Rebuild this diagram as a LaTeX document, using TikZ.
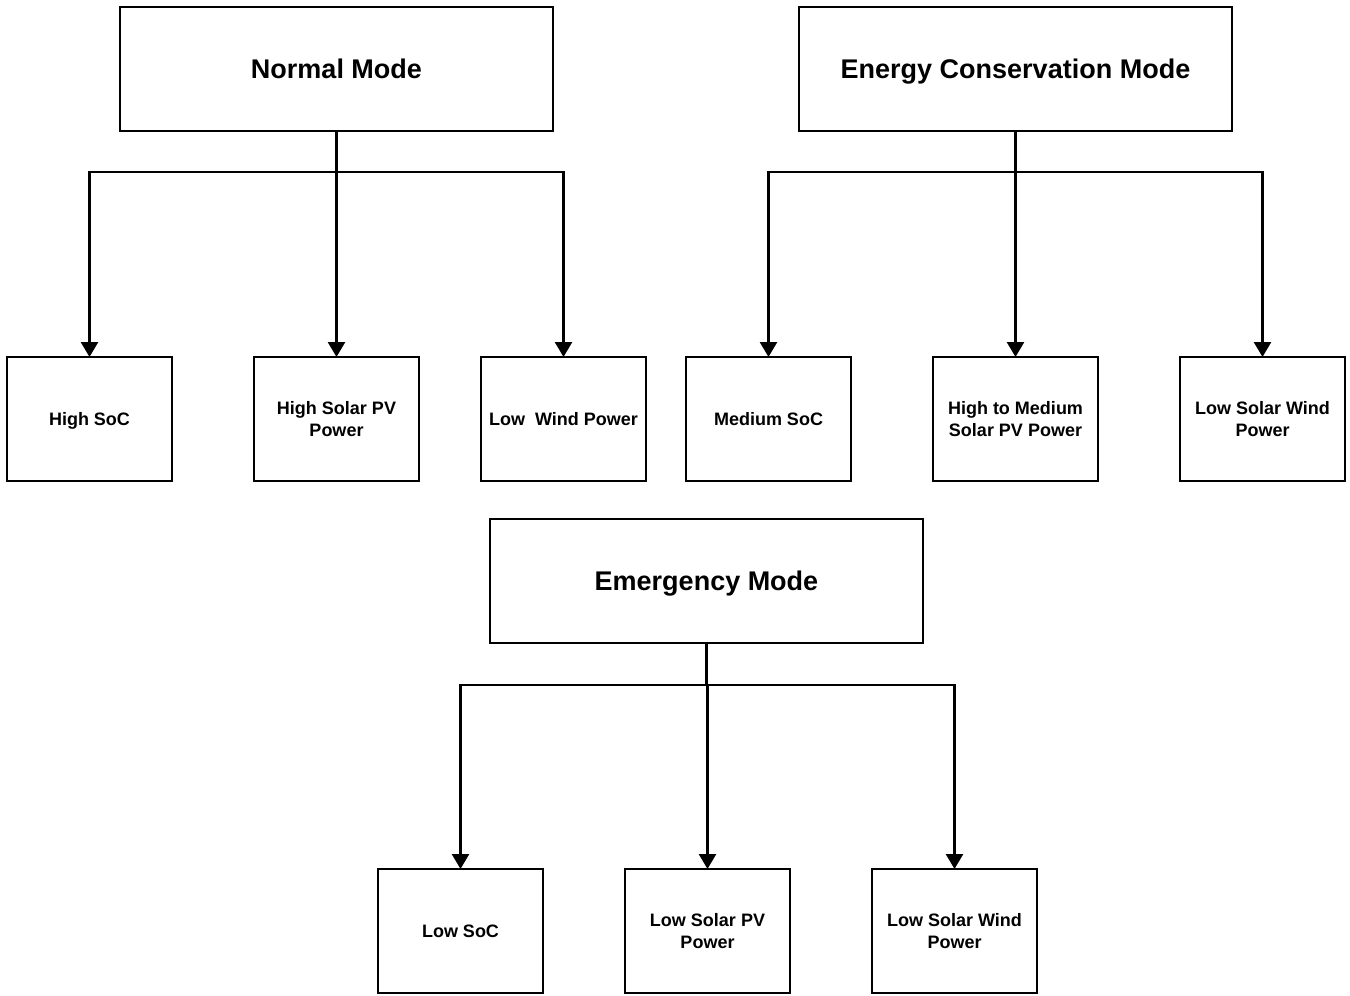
\documentclass[tikz,border=0pt]{standalone}
\usepackage{fontspec}
\setmainfont{Liberation Sans}
\usetikzlibrary{arrows.meta}
\begin{document}
\begin{tikzpicture}[x=1pt,y=-1pt,
  modebox/.style={draw,line width=2.6pt,minimum width=433pt,minimum height=124pt,inner sep=0pt,outer sep=0pt,text height=19.5pt,text depth=0pt,font=\fontsize{27}{32}\selectfont\bfseries},
  condbox/.style={draw,line width=2.6pt,minimum width=165pt,minimum height=124pt,inner sep=0pt,outer sep=0pt,align=center,font=\fontsize{18}{22}\selectfont\bfseries},
  oneline/.style={text height=13pt,text depth=0pt},
  link/.style={line width=2.6pt,-{Triangle[width=17pt,length=15pt]}}]
\useasboundingbox (0,0) rectangle (1350,996);
\node[modebox] (nm) at (336.5,69) {Normal Mode};
\node[modebox] (ec) at (1015.5,69) {Energy Conservation Mode};
\node[modebox] (em) at (706.5,581) {Emergency Mode};
\node[condbox,oneline] (a1) at (89.5,419) {High SoC};
\node[condbox] (a2) at (336.5,419) {High Solar PV\\Power};
\node[condbox,oneline] (a3) at (563.5,419) {Low\ \ Wind Power};
\node[condbox,oneline] (b1) at (768.5,419) {Medium SoC};
\node[condbox] (b2) at (1015.5,419) {High to Medium\\Solar PV Power};
\node[condbox] (b3) at (1262.5,419) {Low Solar Wind\\Power};
\node[condbox,oneline] (c1) at (460.5,931) {Low SoC};
\node[condbox] (c2) at (707.5,931) {Low Solar PV\\Power};
\node[condbox] (c3) at (954.5,931) {Low Solar Wind\\Power};
\draw[link] (nm.south) -- ++(0,41) -| (a1.north);
\draw[link] (nm.south) -- (a2.north);
\draw[link] (nm.south) -- ++(0,41) -| (a3.north);
\draw[link] (ec.south) -- ++(0,41) -| (b1.north);
\draw[link] (ec.south) -- (b2.north);
\draw[link] (ec.south) -- ++(0,41) -| (b3.north);
\draw[link] (em.south) -- ++(0,42) -| (c1.north);
\draw[link] (em.south) -- ++(0,42) -| (c2.north);
\draw[link] (em.south) -- ++(0,42) -| (c3.north);
\end{tikzpicture}
\end{document}
